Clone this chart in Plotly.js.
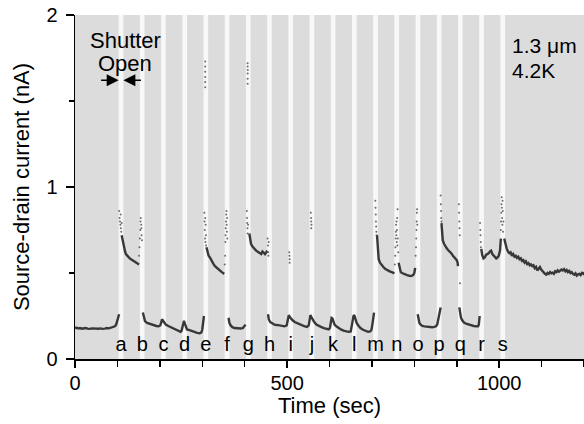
<!DOCTYPE html>
<html>
<head>
<meta charset="utf-8">
<script src="https://cdn.plot.ly/plotly-3.0.1.min.js"></script>
<style>html,body{margin:0;padding:0;background:#fff;}#chart{width:584px;height:424px;}</style>
</head>
<body>
<div id="chart"></div>
<script>
// Shutter-open intervals (start time, sec) and their labels
const shutterStart = [103,153,203,253,303,353,403,453,503,553,603,653,703,753,803,853,903,953,1003];
const shutterOpenSec = 11;
const shutterLabels = ['a','b','c','d','e','f','g','h','i','j','k','l','m','n','o','p','q','r','s'];

// Source-drain current (nA) while shutter is closed, segment by segment
const tA = [0,4,8,12,16,20,25,30,35,40,45,50,55,60,65,70,75,80,85,90,94,97,99,101,103,104];
const iA = [.18,.182,.178,.18,.176,.178,.18,.177,.175,.178,.176,.174,.176,.178,.175,.177,.18,.178,.182,.185,.19,.2,.215,.23,.25,.26];

const tB = [110,112,114,116,118,120,123,126,129,132,135,138,141,144,147,150,151];
const iB = [.72,.69,.66,.64,.625,.61,.6,.592,.585,.58,.575,.57,.566,.56,.555,.548,.55];

const tC = [160,162,165,170,175,180,186,192,197,201,203,205,207,210,214,220,226,232,238,244,249,251,253,255,257,259,261,264,270,276,282,288,294,298,300,302,304];
const iC = [.27,.24,.22,.21,.205,.2,.196,.192,.19,.195,.21,.23,.225,.21,.2,.192,.185,.178,.17,.163,.158,.162,.19,.215,.222,.205,.185,.172,.168,.162,.158,.152,.15,.155,.17,.21,.25];

const tD = [310,312,315,318,322,326,330,334,338,342,346,350,352];
const iD = [.65,.62,.6,.59,.57,.555,.54,.53,.52,.512,.505,.498,.495];

const tE = [362,364,367,371,376,381,386,391,396,400,402];
const iE = [.24,.21,.195,.185,.18,.178,.176,.177,.18,.19,.2];

const tF = [411,413,415,418,421,424,427,430,433,436,439,442,445,448,451,453];
const iF = [.73,.7,.67,.655,.645,.64,.63,.625,.618,.612,.61,.625,.615,.61,.62,.63];

const tG = [455,457,460,465,470,476,482,488,494,499,502,504,506,509,513,518,524,530,536,542,547,551,553,555,557,560,564,569,575,581,587,593,598,601,603,605,607,609,612,616,621,627,633,639,645,650,653,655,657,659,661,664,668,673,679,685,691,696,699,701,703,705];
const iG = [.26,.23,.215,.205,.2,.198,.196,.194,.19,.195,.225,.255,.245,.235,.225,.215,.207,.2,.195,.19,.187,.195,.225,.255,.245,.23,.215,.2,.19,.185,.18,.178,.172,.18,.215,.238,.235,.22,.2,.19,.18,.172,.165,.16,.158,.16,.2,.235,.255,.25,.23,.21,.195,.18,.17,.163,.158,.16,.17,.2,.235,.27];

const tH = [712,713,714,716,719,723,727,731,735,739,743,747,751,753];
const iH = [.72,.66,.61,.58,.56,.545,.535,.525,.518,.512,.508,.505,.5,.498];

const tI = [763,765,768,771,775,779,783,787,791,795,798,800,802];
const iI = [.56,.53,.505,.5,.495,.49,.488,.485,.482,.485,.49,.5,.53];

const tJ = [808,810,812,815,819,824,830,836,842,847,851,854,856,858,860,862];
const iJ = [.26,.235,.21,.2,.192,.19,.188,.186,.185,.187,.19,.2,.225,.255,.28,.3];

const tK = [864,865,867,870,873,876,879,882,885,888,891,894,897,900,902,903];
const iK = [.79,.72,.69,.67,.655,.645,.635,.628,.62,.612,.6,.59,.582,.575,.56,.54];

const tL = [906,908,910,913,917,922,928,934,940,946,950,952,954];
const iL = [.3,.26,.24,.225,.212,.205,.2,.196,.192,.19,.19,.2,.25];

const tM = [958,960,963,966,969,972,975,978,981,984,987,990,993,996,999,1002,1004];
const iM = [.64,.605,.585,.59,.605,.61,.614,.625,.63,.61,.6,.595,.585,.59,.6,.63,.7];

const tN = [1012,1015,1018,1021,1024,1027,1030,1033,1036,1039,1042,1045,1048,1051,1054,1057,1060,1063,1066,1069,1072,1075,1078,1081,1084,1087,1090,1093,1096,1099,1102,1105,1108,1111,1114,1117,1120,1123,1126,1129,1132,1135,1138,1141,1144,1147,1150,1153,1156,1159,1162,1165,1168,1171,1174,1177,1180,1183,1186,1189,1192,1195,1198,1200];
const iN = [.7,.66,.64,.625,.615,.62,.6,.61,.595,.6,.588,.595,.58,.585,.57,.575,.56,.568,.552,.558,.545,.55,.54,.545,.528,.535,.515,.525,.535,.52,.51,.505,.495,.49,.5,.495,.505,.498,.502,.495,.51,.505,.515,.508,.512,.52,.515,.522,.51,.518,.505,.512,.5,.505,.495,.49,.498,.485,.492,.495,.488,.5,.495,.505];

// Scattered readings while the shutter is open
const spikeT = [104,105,106,107,107.5,108,109,110,
  151,152,153,154,154.5,155,156,156.5,157,158,
  305,305.5,306,306.5,307,307.5,308,308.5,309,307,307,307,307,307,307,
  353,354,354.5,355,355.5,356,356.5,357,357.5,358,358.5,359,
  405,405.5,406,406.5,407,407,407,407.3,407,407,407,408,
  454,455,455.5,456,456.5,
  505,505.5,506,506,
  556,556.5,557,557.5,557,
  708,708.5,709,709.5,710,710.5,711,
  754,755,755.5,756,756.5,757,757.5,758,758.5,759,759.5,760,760.5,761,762,
  803,804,804.5,805,805.5,806,806.5,807,
  862,862.5,863,863.5,864,
  905,905.5,906,906.5,907,907.5,
  955,955.5,956,956.5,957,957.5,
  1004,1004.5,1005,1005.5,1006,1006.5,1007,1007.5,1008,1008.5,1009,1010];
const spikeI = [.86,.82,.8,.78,.84,.76,.74,.79,
  .6,.65,.7,.75,.8,.82,.78,.76,.72,.69,
  .85,.8,.75,.7,.82,.68,.78,.72,.66,1.73,1.7,1.67,1.64,1.61,1.58,
  .55,.6,.68,.72,.76,.8,.84,.86,.78,.74,.82,.7,
  .86,.82,.79,.76,.73,1.72,1.7,1.68,1.66,1.63,1.6,.78,
  .7,.66,.62,.6,.68,
  .62,.6,.58,.56,
  .85,.82,.8,.78,.76,
  .92,.88,.84,.8,.77,.74,.72,
  .55,.6,.65,.7,.74,.78,.72,.8,.68,.75,.82,.66,.87,.7,.62,
  .6,.65,.7,.75,.8,.85,.87,.78,
  .95,.9,.86,.82,.8,
  .9,.85,.8,.76,.72,.44,
  .79,.75,.72,.68,.65,.63,
  .75,.8,.85,.9,.94,.88,.82,.78,.92,.86,.74,.8];

const segT = [tA,tB,tC,tD,tE,tF,tG,tH,tI,tJ,tK,tL,tM,tN];
const segI = [iA,iB,iC,iD,iE,iF,iG,iH,iI,iJ,iK,iL,iM,iN];

let xs = [], ys = [];
segT.forEach((t, k) => {
  xs = xs.concat(t); ys = ys.concat(segI[k]);
  xs.push(null); ys.push(null);
});

const font = 'Liberation Sans, Arial, Helvetica, sans-serif';

const traces = [
  {x: xs, y: ys, type: 'scatter', mode: 'lines', connectgaps: false,
   line: {color: '#383838', width: 2.4}, hoverinfo: 'skip'},
  {x: spikeT, y: spikeI, type: 'scatter', mode: 'markers',
   marker: {color: '#555', size: 2, opacity: 0.85}, hoverinfo: 'skip'},
  {x: shutterStart.map(s => s + shutterOpenSec / 2), y: shutterLabels.map(() => 0.075),
   text: shutterLabels, type: 'scatter', mode: 'text', textposition: 'middle center',
   textfont: {family: font, size: 20, color: '#000'}, hoverinfo: 'skip', cliponaxis: false}
];

const shapes = shutterStart.map(s => ({
  type: 'rect', xref: 'x', yref: 'y', x0: s, x1: s + shutterOpenSec, y0: 0, y1: 2,
  fillcolor: '#f8f8f8', line: {width: 0}, layer: 'below'
}));

const a0 = shutterStart[0], a1 = shutterStart[0] + shutterOpenSec;
const annotations = [
  {x: 119, y: 1.85, xref: 'x', yref: 'y', text: 'Shutter', showarrow: false,
   font: {family: font, size: 22, color: '#000'}, xanchor: 'center', yanchor: 'middle'},
  {x: 119, y: 1.72, xref: 'x', yref: 'y', text: 'Open', showarrow: false,
   font: {family: font, size: 22, color: '#000'}, xanchor: 'center', yanchor: 'middle'},
  {x: a0, y: 1.62, ax: a0 - 45, ay: 1.62, xref: 'x', yref: 'y', axref: 'x', ayref: 'y',
   text: '', showarrow: true, arrowhead: 2, arrowsize: 1.6, arrowwidth: 1.5, arrowcolor: '#000'},
  {x: a1, y: 1.62, ax: a1 + 45, ay: 1.62, xref: 'x', yref: 'y', axref: 'x', ayref: 'y',
   text: '', showarrow: true, arrowhead: 2, arrowsize: 1.6, arrowwidth: 1.5, arrowcolor: '#000'},
  {x: 1026, y: 1.82, xref: 'x', yref: 'y', text: '1.3 μm', showarrow: false,
   font: {family: font, size: 21, color: '#000'}, xanchor: 'left', yanchor: 'middle'},
  {x: 1026, y: 1.675, xref: 'x', yref: 'y', text: '4.2K', showarrow: false,
   font: {family: font, size: 21, color: '#000'}, xanchor: 'left', yanchor: 'middle'}
];

const layout = {
  width: 584, height: 424,
  margin: {l: 75, r: 0, t: 15, b: 65, pad: 0},
  paper_bgcolor: '#ffffff', plot_bgcolor: '#dcdcdc',
  showlegend: false,
  font: {family: font, size: 20, color: '#000'},
  xaxis: {
    range: [0, 1200], tickvals: [0, 500, 1000], ticktext: ['0','500','1000'],
    ticks: 'outside', ticklen: 7, tickwidth: 1.5, tickcolor: '#000',
    showline: true, linecolor: '#000', linewidth: 1.5, showgrid: false, zeroline: false,
    minor: {dtick: 100, tick0: 0, ticks: 'outside', ticklen: 6, tickwidth: 1.5, tickcolor: '#000', showgrid: false},
    tickfont: {family: font, size: 20}, ticklabelstandoff: -2,
    title: {text: 'Time (sec)', font: {family: font, size: 22}, standoff: 2}
  },
  yaxis: {
    range: [0, 2], tickvals: [0, 1, 2], ticktext: ['0','1','2'],
    ticks: 'outside', ticklen: 8, tickwidth: 1.5, tickcolor: '#000',
    showline: true, linecolor: '#000', linewidth: 1.5, showgrid: false, zeroline: false,
    minor: {dtick: 0.5, tick0: 0, ticks: 'outside', ticklen: 5, tickwidth: 1.5, tickcolor: '#000', showgrid: false},
    tickfont: {family: font, size: 20}, ticklabelstandoff: 4,
    title: {text: 'Source-drain current (nA)', font: {family: font, size: 22}, standoff: 10}
  },
  shapes: shapes,
  annotations: annotations
};

Plotly.newPlot('chart', traces, layout, {staticPlot: true, displayModeBar: false});
</script>
</body>
</html>
